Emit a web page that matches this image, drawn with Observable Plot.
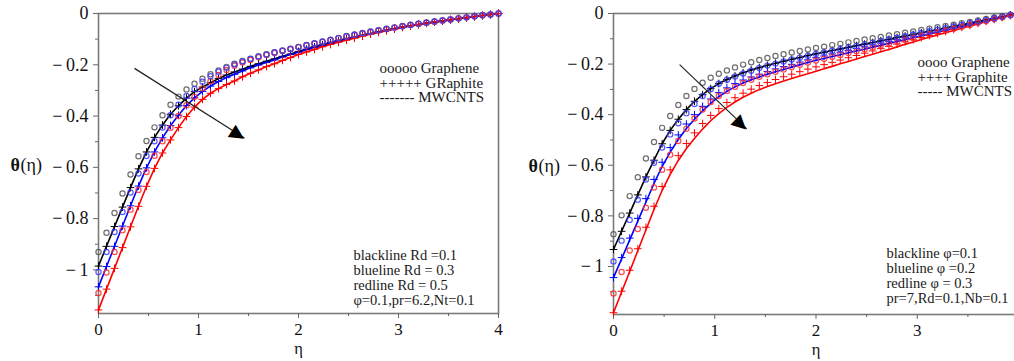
<!DOCTYPE html>
<html><head><meta charset="utf-8">
<script src="https://cdn.jsdelivr.net/npm/d3@7"></script>
<script src="https://cdn.jsdelivr.net/npm/@observablehq/plot@0.6"></script>
<style>
html,body{margin:0;padding:0;background:#fff;overflow:hidden;width:1014px;height:361px;}
#wrap{display:flex;width:1040px;height:361px;}
#wrap svg{flex:none;display:block;}
#wrap svg text{font-family:"Liberation Serif", serif;}
</style></head><body><div id="wrap"></div>
<script>
// eta grid of the plotted points
const eta = [0,0.08,0.16,0.24,0.32,0.4,0.48,0.56,0.64,0.72,0.8,0.88,0.96,1.04,1.12,1.2,1.28,1.36,1.44,1.52,1.6,1.68,1.76,1.84,1.92,2,2.08,2.16,2.24,2.32,2.4,2.48,2.56,2.64,2.72,2.8,2.88,2.96,3.04,3.12,3.2,3.28,3.36,3.44,3.52,3.6,3.68,3.76,3.84,3.92,4];

// ---- Left panel (Rd = 0.1, 0.3, 0.5) ----
const L_lineBlack = [-0.985,-0.908,-0.831,-0.755,-0.679,-0.606,-0.540,-0.483,-0.435,-0.393,-0.360,-0.330,-0.305,-0.287,-0.270,-0.254,-0.240,-0.228,-0.217,-0.206,-0.196,-0.186,-0.177,-0.167,-0.158,-0.148,-0.139,-0.130,-0.122,-0.114,-0.106,-0.099,-0.092,-0.085,-0.078,-0.071,-0.065,-0.059,-0.053,-0.048,-0.043,-0.038,-0.033,-0.029,-0.024,-0.020,-0.016,-0.012,-0.008,-0.004,0];
const L_lineBlue = [-1.066,-0.987,-0.908,-0.829,-0.750,-0.673,-0.602,-0.540,-0.485,-0.437,-0.397,-0.359,-0.329,-0.304,-0.283,-0.265,-0.250,-0.237,-0.224,-0.212,-0.201,-0.191,-0.181,-0.170,-0.160,-0.151,-0.141,-0.132,-0.124,-0.115,-0.107,-0.100,-0.093,-0.086,-0.079,-0.072,-0.066,-0.059,-0.054,-0.048,-0.043,-0.038,-0.033,-0.029,-0.024,-0.020,-0.016,-0.012,-0.008,-0.004,0];
const L_lineRed = [-1.156,-1.075,-0.994,-0.913,-0.832,-0.752,-0.674,-0.604,-0.544,-0.493,-0.445,-0.402,-0.365,-0.335,-0.311,-0.293,-0.277,-0.263,-0.247,-0.233,-0.220,-0.207,-0.196,-0.183,-0.172,-0.160,-0.150,-0.140,-0.130,-0.121,-0.112,-0.104,-0.096,-0.088,-0.081,-0.074,-0.067,-0.060,-0.054,-0.048,-0.043,-0.038,-0.033,-0.029,-0.024,-0.020,-0.016,-0.012,-0.008,-0.004,0];
const L_circBlack = [-0.930,-0.855,-0.778,-0.702,-0.628,-0.557,-0.497,-0.444,-0.397,-0.356,-0.324,-0.296,-0.274,-0.254,-0.237,-0.222,-0.208,-0.196,-0.185,-0.176,-0.167,-0.159,-0.151,-0.144,-0.137,-0.130,-0.123,-0.116,-0.109,-0.102,-0.095,-0.088,-0.082,-0.076,-0.070,-0.065,-0.059,-0.054,-0.049,-0.044,-0.040,-0.035,-0.031,-0.027,-0.023,-0.019,-0.015,-0.011,-0.007,-0.004,0];
const L_circBlue = [-1.008,-0.930,-0.852,-0.774,-0.698,-0.624,-0.556,-0.498,-0.445,-0.397,-0.356,-0.322,-0.294,-0.266,-0.245,-0.227,-0.212,-0.199,-0.187,-0.177,-0.168,-0.160,-0.152,-0.145,-0.138,-0.131,-0.124,-0.117,-0.110,-0.103,-0.096,-0.089,-0.083,-0.077,-0.071,-0.066,-0.060,-0.055,-0.050,-0.045,-0.040,-0.036,-0.031,-0.027,-0.023,-0.019,-0.015,-0.011,-0.007,-0.004,0];
const L_circRed = [-1.090,-1.010,-0.930,-0.845,-0.765,-0.688,-0.618,-0.555,-0.498,-0.446,-0.400,-0.358,-0.325,-0.292,-0.264,-0.240,-0.220,-0.204,-0.191,-0.181,-0.171,-0.162,-0.154,-0.146,-0.139,-0.132,-0.125,-0.118,-0.111,-0.104,-0.097,-0.090,-0.084,-0.078,-0.072,-0.066,-0.061,-0.055,-0.050,-0.045,-0.041,-0.036,-0.032,-0.027,-0.023,-0.019,-0.015,-0.011,-0.007,-0.004,0];

// ---- Right panel (phi = 0.1, 0.2, 0.3) ----
const R_lineBlack = [-0.933,-0.861,-0.789,-0.717,-0.646,-0.580,-0.515,-0.462,-0.418,-0.380,-0.347,-0.321,-0.297,-0.277,-0.261,-0.247,-0.234,-0.223,-0.214,-0.205,-0.197,-0.189,-0.181,-0.174,-0.166,-0.159,-0.153,-0.146,-0.140,-0.134,-0.127,-0.121,-0.115,-0.108,-0.102,-0.095,-0.089,-0.083,-0.076,-0.070,-0.064,-0.057,-0.051,-0.045,-0.038,-0.032,-0.025,-0.019,-0.013,-0.006,0];
const R_lineBlue = [-1.044,-0.970,-0.895,-0.821,-0.746,-0.672,-0.605,-0.548,-0.498,-0.455,-0.418,-0.385,-0.355,-0.329,-0.308,-0.290,-0.275,-0.262,-0.251,-0.240,-0.230,-0.221,-0.212,-0.203,-0.194,-0.185,-0.178,-0.170,-0.163,-0.155,-0.148,-0.141,-0.133,-0.126,-0.118,-0.111,-0.104,-0.096,-0.089,-0.081,-0.074,-0.067,-0.059,-0.052,-0.044,-0.037,-0.030,-0.022,-0.015,-0.007,0];
const R_lineRed = [-1.183,-1.101,-1.020,-0.938,-0.856,-0.775,-0.700,-0.636,-0.581,-0.534,-0.494,-0.457,-0.424,-0.396,-0.371,-0.350,-0.331,-0.315,-0.301,-0.289,-0.278,-0.267,-0.257,-0.247,-0.238,-0.228,-0.218,-0.209,-0.199,-0.190,-0.180,-0.170,-0.161,-0.151,-0.142,-0.132,-0.122,-0.113,-0.103,-0.094,-0.085,-0.076,-0.067,-0.058,-0.049,-0.041,-0.032,-0.024,-0.016,-0.008,0];
const R_circBlack = [-0.873,-0.798,-0.722,-0.647,-0.573,-0.508,-0.452,-0.405,-0.362,-0.326,-0.298,-0.274,-0.254,-0.238,-0.225,-0.213,-0.202,-0.193,-0.184,-0.176,-0.168,-0.161,-0.154,-0.148,-0.142,-0.136,-0.131,-0.125,-0.120,-0.114,-0.109,-0.103,-0.098,-0.093,-0.087,-0.082,-0.076,-0.071,-0.065,-0.060,-0.054,-0.049,-0.044,-0.038,-0.033,-0.027,-0.022,-0.016,-0.011,-0.005,0];
const R_circBlue = [-0.980,-0.898,-0.816,-0.736,-0.656,-0.590,-0.530,-0.478,-0.434,-0.394,-0.358,-0.326,-0.299,-0.278,-0.262,-0.249,-0.237,-0.226,-0.215,-0.206,-0.198,-0.190,-0.182,-0.175,-0.167,-0.160,-0.154,-0.147,-0.141,-0.134,-0.128,-0.122,-0.115,-0.109,-0.102,-0.096,-0.090,-0.083,-0.077,-0.070,-0.064,-0.058,-0.051,-0.045,-0.038,-0.032,-0.026,-0.019,-0.013,-0.006,0];
const R_circRed = [-1.107,-1.022,-0.937,-0.852,-0.768,-0.688,-0.618,-0.558,-0.504,-0.456,-0.415,-0.380,-0.350,-0.326,-0.306,-0.290,-0.275,-0.262,-0.250,-0.240,-0.230,-0.221,-0.212,-0.203,-0.194,-0.186,-0.179,-0.171,-0.164,-0.156,-0.149,-0.142,-0.134,-0.127,-0.119,-0.112,-0.104,-0.097,-0.089,-0.082,-0.074,-0.067,-0.060,-0.052,-0.045,-0.037,-0.030,-0.022,-0.015,-0.007,0];
const R_plusBlue = [-1.044,-0.965,-0.888,-0.810,-0.732,-0.656,-0.588,-0.530,-0.480,-0.437,-0.400,-0.367,-0.338,-0.313,-0.294,-0.277,-0.263,-0.251,-0.240,-0.229,-0.219,-0.210,-0.201,-0.192,-0.183,-0.175,-0.168,-0.160,-0.153,-0.146,-0.139,-0.132,-0.124,-0.117,-0.110,-0.103,-0.096,-0.089,-0.082,-0.075,-0.068,-0.062,-0.055,-0.048,-0.041,-0.034,-0.028,-0.020,-0.014,-0.007,0];
const R_plusRed = [-1.183,-1.098,-1.015,-0.930,-0.845,-0.762,-0.684,-0.618,-0.562,-0.514,-0.472,-0.435,-0.403,-0.376,-0.352,-0.333,-0.315,-0.299,-0.285,-0.273,-0.261,-0.250,-0.240,-0.230,-0.220,-0.211,-0.202,-0.193,-0.184,-0.175,-0.166,-0.157,-0.148,-0.139,-0.130,-0.121,-0.112,-0.104,-0.095,-0.087,-0.079,-0.071,-0.063,-0.055,-0.047,-0.039,-0.031,-0.023,-0.015,-0.008,0];

// ticks
const xMajor = [0,1,2,3,4];
const xMinor = [0.5,1.5,2.5,3.5];
const yMajor = [0,-0.2,-0.4,-0.6,-0.8,-1];
const yMinor = [-0.1,-0.3,-0.5,-0.7,-0.9,-1.1];

// texts
const L_legendTop = ["ooooo Graphene","+++++ GRaphite","------- MWCNTS"];
const L_legendBottom = ["blackline Rd =0.1","blueline Rd = 0.3","redline Rd = 0.5","φ=0.1,pr=6.2,Nt=0.1"];
const R_legendTop = ["oooo Graphene","++++ Graphite","----- MWCNTS"];
const R_legendBottom = ["blackline φ=0.1","blueline φ =0.2","redline φ = 0.3","pr=7,Rd=0.1,Nb=0.1"];

// arrows (data coordinates: eta, theta)
const L_arrow = [{x1:0.36, y1:-0.214, x2:1.46, y2:-0.486}];
const R_arrow = [{x1:0.653, y1:-0.202, x2:1.317, y2:-0.456}];

const SERIF = "Liberation Serif";
const rows = arr => eta.map((e,i) => ({eta: e, theta: arr[i]}));
const yFmt = d => d < 0 ? "\u2212\u2009" + d3.format("~g")(-d) : d3.format("~g")(d);

function panel(o) {
  const marks = [
    Plot.frame({stroke:"#7a7a7a", strokeWidth:1.6}),
    Plot.axisY(yMinor, {tickSize:3, tickFormat:() => "", stroke:"#666", label:null}),
    Plot.axisY(yMajor, {tickSize:5, tickFormat:() => "", stroke:"#666", label:null}),
    Plot.axisX(xMinor, {tickSize:3, tickFormat:() => "", stroke:"#666", label:null}),
    Plot.axisX(xMajor, {tickSize:5, tickFormat:() => "", stroke:"#666", label:null}),
    // tick labels
    Plot.text(yMajor, {y:d => d, text:yFmt, frameAnchor:"left", dx:-10, textAnchor:"end", fontSize:18, fontFamily:SERIF, fill:"#111"}),
    Plot.text(xMajor, {x:d => d, text:d3.format("~g"), frameAnchor:"bottom", dy:21, fontSize:17, fontFamily:SERIF, fill:"#111"}),
  ];
  const cols = ["#000000","#0000ff","#ff0000"];
  const circCols = ["#555555","#3a3aff","#ff2a2a"];
  o.lines.forEach((a,k) => marks.push(Plot.line(rows(a), {x:"eta", y:"theta", stroke:cols[k], strokeWidth:1.6})));
  o.pluses.forEach((a,k) => marks.push(Plot.dot(rows(a), {x:"eta", y:"theta", symbol:"plus", r:2.6, stroke:cols[k], strokeWidth:1})));
  [0,2,1].forEach(k => marks.push(Plot.dot(rows(o.circles[k]), {x:"eta", y:"theta", r:2.6, stroke:circCols[k], strokeWidth:1.2, fill:"none", strokeOpacity:0.85})));
  // arrow
  marks.push(Plot.link(o.arrow, {x1:"x1", y1:"y1", x2:"x2", y2:"y2", stroke:"#222", strokeWidth:1.2}));
  marks.push(Plot.text(o.arrow, {x:d => d.x1 + (d.x2-d.x1)*o.headAt, y:d => d.y1 + (d.y2-d.y1)*o.headAt, text:() => "▶", rotate:o.headAngle, fontSize:19, fontFamily:"DejaVu Sans", fill:"#000"}));
  // legends
  marks.push(Plot.text([o.legendTop.join("\n")], {frameAnchor:"top-left", dx:o.topDx, dy:o.topDy, textAnchor:"start", lineAnchor:"top", lineHeight:0.98, fontSize:15, fontFamily:SERIF, fill:"#1a1a1a"}));
  marks.push(Plot.text([o.legendBottom.join("\n")], {frameAnchor:"top-left", dx:o.botDx, dy:o.botDy, textAnchor:"start", lineAnchor:"top", lineHeight:1.03, fontSize:14.5, fontFamily:SERIF, fill:"#1a1a1a"}));
  // axis labels
  marks.push(Plot.text(["θ"], {frameAnchor:"left", dx:o.ylabDx, dy:2, textAnchor:"start", fontWeight:"bold", fontSize:18, fontFamily:SERIF}));
  marks.push(Plot.text(["(η)"], {frameAnchor:"left", dx:o.ylabDx+10, dy:2, textAnchor:"start", fontSize:18, fontFamily:SERIF}));
  marks.push(Plot.text(["η"], {frameAnchor:"bottom", dy:40, fontSize:16.5, fontFamily:SERIF}));
  return Plot.plot({
    width:o.width, height:361,
    marginTop:13, marginBottom:o.marginBottom, marginLeft:o.marginLeft, marginRight:o.marginRight,
    x:{domain:[0,4], axis:null},
    y:{domain:[o.yMin,0], axis:null},
    style:{fontFamily:"'Liberation Serif', serif", fontSize:"17px", background:"#fff", color:"#111", overflow:"visible"},
    marks
  });
}

const wrap = document.getElementById("wrap");
wrap.appendChild(panel({
  width:507, marginLeft:98, marginRight:9, marginBottom:48, yMin:-1.17,
  lines:[L_lineBlack, L_lineBlue, L_lineRed],
  pluses:[L_lineBlack, L_lineBlue, L_lineRed],
  circles:[L_circBlack, L_circBlue, L_circRed],
  arrow:L_arrow, headAt:0.945, headAngle:32.5,
  legendTop:L_legendTop, legendBottom:L_legendBottom,
  topDx:281, topDy:49, botDx:255, botDy:236, ylabDx:-88
}));
wrap.appendChild(panel({
  width:521, marginLeft:106, marginRight:10, marginBottom:47, yMin:-1.19,
  lines:[R_lineBlack, R_lineBlue, R_lineRed],
  pluses:[R_lineBlack, R_plusBlue, R_plusRed],
  circles:[R_circBlack, R_circBlue, R_circRed],
  arrow:R_arrow, headAt:0.925, headAngle:43.7,
  legendTop:R_legendTop, legendBottom:R_legendBottom,
  topDx:304, topDy:43, botDx:273, botDy:234, ylabDx:-85
}));
</script></body></html>
